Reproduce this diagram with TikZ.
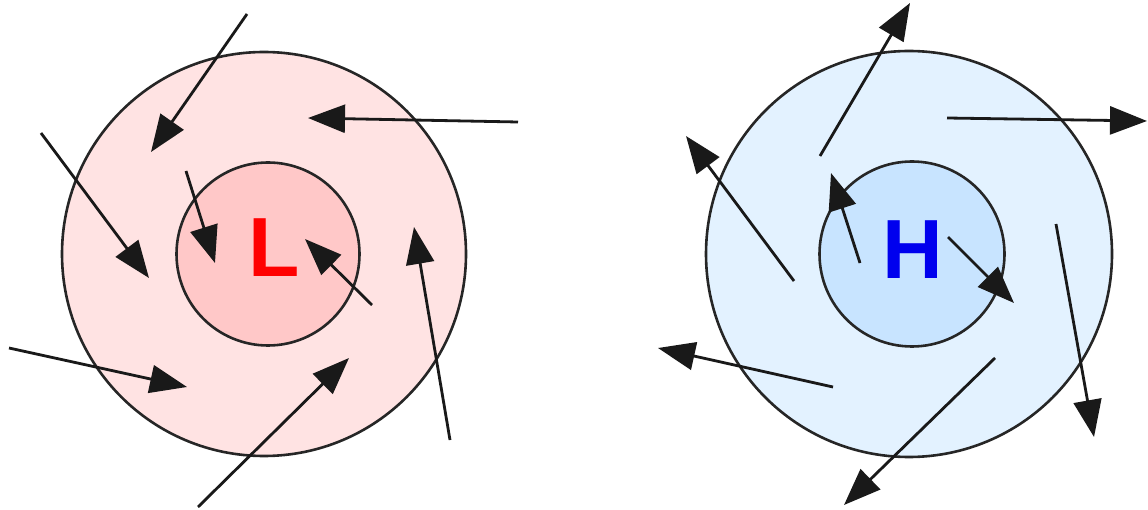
\documentclass[tikz,border=0pt]{standalone}
\usepackage{fontspec}
\setsansfont{Liberation Sans}
\usetikzlibrary{arrows.meta}
\definecolor{lowoutbg}{HTML}{FFE3E3}
\definecolor{lowinbg}{HTML}{FFC8C8}
\definecolor{highoutbg}{HTML}{E3F2FF}
\definecolor{highinbg}{HTML}{C8E4FF}
\definecolor{lowink}{HTML}{FF0000}
\definecolor{highink}{HTML}{0000EE}
\tikzset{
  ring/.style   = {circle, draw=black!85, line width=2.6pt, inner sep=0pt},
  wind/.style   = {-{Triangle[length=37pt,width=28pt]}, line width=2.8pt, draw=black!90, fill=black},
  centre/.style = {font=\fontsize{84}{84}\selectfont\sffamily\bfseries, inner sep=0pt},
}
\begin{document}
\begin{tikzpicture}[x=1pt,y=-1pt]
\useasboundingbox (0,0) rectangle (1148,510);
% low pressure: air spirals in
\node[ring, fill=lowoutbg, minimum size=404pt] (lowout) at (264,254) {};
\node[ring, fill=lowinbg,  minimum size=183pt] (lowin)  at (268,254) {};
\node[centre, text=lowink] (lowlbl) at (274,248) {L};
% high pressure: air spirals out
\node[ring, fill=highoutbg, minimum size=406pt] (highout) at (909,254) {};
\node[ring, fill=highinbg,  minimum size=185pt] (highin)  at (912,254) {};
\node[centre, text=highink] (highlbl) at (913,250) {H};
% wind arrows
\foreach \a/\b/\c/\d in {247/14/151/152, 518/122/308/118, 41/133/149/278,
                         186/171/215/263, 372/305/305/239, 450/440/414/227,
                         9/348/187/387, 198/507/349/358}
  \draw[wind] (\a,\b) -- (\c,\d);
\foreach \a/\b/\c/\d in {820/156/910/3, 947/118/1147/121, 794/281/686/136,
                         860/263/831/173, 948/237/1014/303, 1056/224/1094/437,
                         833/387/658/348, 995/358/844/505}
  \draw[wind] (\a,\b) -- (\c,\d);
\end{tikzpicture}
\end{document}
